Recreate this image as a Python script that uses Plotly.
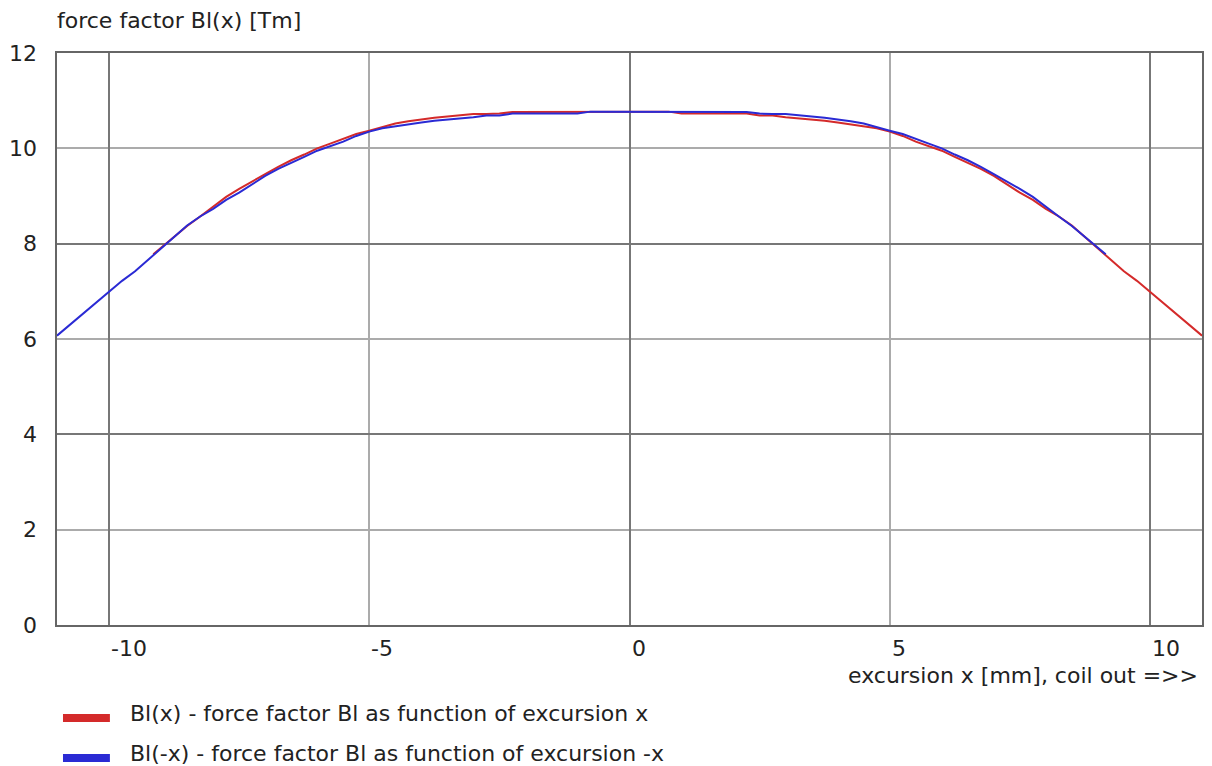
import plotly.graph_objects as go

# Force factor Bl(x), x in mm
x_mm = [-9.15, -9.0, -8.75, -8.5, -8.25, -8.0, -7.75, -7.5, -7.25, -7.0,
        -6.75, -6.5, -6.25, -6.0, -5.75, -5.5, -5.25, -5.0, -4.75, -4.5,
        -4.25, -4.0, -3.75, -3.5, -3.25, -3.0, -2.75, -2.5, -2.25, -2.0,
        -1.75, -1.5, -1.25, -1.0, -0.75, -0.5, -0.25, 0.0, 0.25, 0.5,
        0.75, 1.0, 1.25, 1.5, 1.75, 2.0, 2.25, 2.5, 2.75, 3.0,
        3.25, 3.5, 3.75, 4.0, 4.25, 4.5, 4.75, 5.0, 5.25, 5.5,
        5.75, 6.0, 6.25, 6.5, 6.75, 7.0, 7.25, 7.5, 7.75, 8.0,
        8.25, 8.5, 8.75, 9.0, 9.25, 9.5, 9.75, 10.0, 10.25, 10.5,
        10.75, 11.0]
bl_x = [7.78, 7.92, 8.14, 8.37, 8.57, 8.78, 8.98, 9.15, 9.31, 9.46,
        9.61, 9.75, 9.87, 10.00, 10.10, 10.20, 10.30, 10.37, 10.45, 10.52,
        10.57, 10.61, 10.64, 10.67, 10.70, 10.72, 10.72, 10.73, 10.76, 10.76,
        10.76, 10.76, 10.76, 10.76, 10.76, 10.77, 10.77, 10.77, 10.77, 10.77,
        10.77, 10.73, 10.73, 10.73, 10.73, 10.73, 10.73, 10.69, 10.69, 10.65,
        10.63, 10.60, 10.58, 10.54, 10.50, 10.46, 10.42, 10.35, 10.26, 10.14,
        10.05, 9.95, 9.82, 9.70, 9.57, 9.42, 9.24, 9.07, 8.92, 8.73,
        8.57, 8.38, 8.14, 7.90, 7.66, 7.42, 7.22, 6.99, 6.78, 6.53,
        6.30, 6.07]
# Bl(-x): the same measurement mirrored
x_neg = [-v for v in x_mm]

x_ticks = [-10, -5, 0, 5, 10]
x_tick_text = ["-10", "-5", "0", "5", "10"]
y_ticks = [0, 2, 4, 6, 8, 10, 12]
y_tick_text = ["0", "2", "4", "6", "8", "10", "12"]

series_names = ["Bl(x) - force factor Bl as function of excursion x",
                "Bl(-x) - force factor Bl as function of excursion -x"]
colors = ["#d42a2a", "#2a2ad4"]

FONT = "DejaVu Sans, Verdana, sans-serif"
TXT = "#222222"
FS = 22

fig = go.Figure()
fig.add_trace(go.Scatter(x=x_mm, y=bl_x, mode="lines", name=series_names[0],
                         line=dict(color=colors[0], width=2), showlegend=False))
fig.add_trace(go.Scatter(x=x_neg, y=bl_x, mode="lines", name=series_names[1],
                         line=dict(color=colors[1], width=2), showlegend=False))

axis_common = dict(showline=True, linecolor="#666666", linewidth=2, mirror=True,
                   zeroline=False, showticklabels=False, ticks="")
fig.update_xaxes(range=[-11, 11], tick0=0, dtick=10, showgrid=True,
                 gridcolor="#777777", gridwidth=2,
                 minor=dict(tick0=0, dtick=5, showgrid=True, gridcolor="#ababab", gridwidth=2),
                 **axis_common)
fig.update_yaxes(range=[0, 12], tick0=0, dtick=4, showgrid=True,
                 gridcolor="#777777", gridwidth=2,
                 minor=dict(tick0=0, dtick=2, showgrid=True, gridcolor="#ababab", gridwidth=2),
                 **axis_common)

ann = []
for v, t in zip(x_ticks, x_tick_text):
    ann.append(dict(x=v, y=0, xref="x", yref="paper", text=t, showarrow=False,
                    xanchor="left", yanchor="middle", yshift=-23, xshift=0,
                    font=dict(family=FONT, size=FS, color=TXT)))
for v, t in zip(y_ticks, y_tick_text):
    ann.append(dict(x=0, y=v, xref="paper", yref="y", text=t, showarrow=False,
                    xanchor="right", yanchor="middle", xshift=-18,
                    font=dict(family=FONT, size=FS, color=TXT)))
ann.append(dict(x=0, y=1, xref="paper", yref="paper", text="force factor Bl(x) [Tm]",
                showarrow=False, xanchor="left", yanchor="middle", yshift=33, xshift=-2,
                font=dict(family=FONT, size=FS, color=TXT)))
ann.append(dict(x=1, y=0, xref="paper", yref="paper", text="excursion x [mm], coil out =>>",
                showarrow=False, xanchor="right", yanchor="middle", yshift=-50, xshift=-2,
                font=dict(family=FONT, size=FS, color=TXT)))

# manual legend
leg_y = [-93, -133]  # pixel offsets below plot bottom
for i, name in enumerate(series_names):
    ann.append(dict(x=0, y=0, xref="paper", yref="paper", text=name, showarrow=False,
                    xanchor="left", yanchor="middle", xshift=71, yshift=leg_y[i] + 5,
                    font=dict(family=FONT, size=FS, color=TXT)))

fig.update_layout(
    width=1212, height=766,
    margin=dict(l=57, r=8, t=53, b=141),
    paper_bgcolor="white", plot_bgcolor="white",
    annotations=ann,
    font=dict(family=FONT, size=FS, color=TXT),
)

plot_h = 766 - 53 - 141
plot_w = 1212 - 57 - 8
for i, c in enumerate(colors):
    yc = leg_y[i]
    fig.add_shape(type="rect", xref="paper", yref="paper",
                  x0=(63 - 57) / plot_w, x1=(110 - 57) / plot_w,
                  y0=(yc - 4) / plot_h, y1=(yc + 4) / plot_h,
                  fillcolor=c, line=dict(width=0))

fig.write_html("out.html")
